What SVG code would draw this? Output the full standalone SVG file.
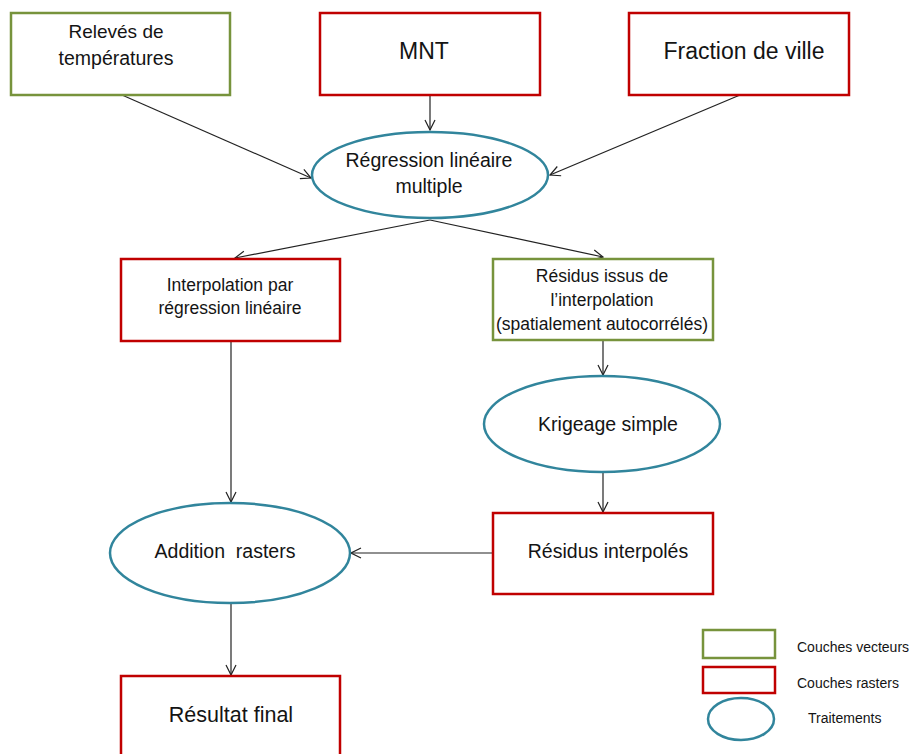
<svg xmlns="http://www.w3.org/2000/svg" width="912" height="754" viewBox="0 0 912 754">
<defs>
<style>
.g{fill:#fff;stroke:#77933C;stroke-width:2.5}
.r{fill:#fff;stroke:#C00000;stroke-width:2.5}
.e{fill:#fff;stroke:#31859C;stroke-width:2.5}
text{font-family:"Liberation Sans",Arial,sans-serif;fill:#141414;text-anchor:middle}
.c line{stroke:#222;stroke-width:1.2;marker-end:url(#a)}
</style>
<marker id="a" viewBox="0 0 12 12" refX="11" refY="6" markerWidth="12" markerHeight="12" markerUnits="userSpaceOnUse" orient="auto">
<polyline points="1,1 11,6 1,11" fill="none" stroke="#222" stroke-width="1.2"/>
</marker>
</defs>
<rect width="912" height="754" fill="#fff"/>
<g class="c">
<line x1="122" y1="95" x2="311" y2="178"/>
<line x1="430" y1="95" x2="430" y2="130"/>
<line x1="740" y1="95" x2="550" y2="175"/>
<line x1="430" y1="220" x2="235" y2="258"/>
<line x1="430" y1="220" x2="603" y2="257"/>
<line x1="231" y1="341" x2="231" y2="502"/>
<line x1="603" y1="341" x2="603" y2="375"/>
<line x1="603" y1="472" x2="603" y2="512"/>
<line x1="493" y1="553" x2="351" y2="553"/>
<line x1="231" y1="604" x2="231" y2="675"/>
</g>
<g id="releves"><rect class="g" x="11" y="13" width="219" height="82"/><text x="116" y="38" font-size="19">Relevés de</text><text x="116" y="65" font-size="19.5">températures</text></g>
<g id="mnt"><rect class="r" x="320" y="13" width="220" height="82"/><text x="424" y="59" font-size="23">MNT</text></g>
<g id="fraction"><rect class="r" x="629" y="13" width="220" height="82"/><text x="744" y="59" font-size="23">Fraction de ville</text></g>
<g id="regression"><ellipse class="e" cx="430" cy="175" rx="118" ry="43"/><text x="429" y="167" font-size="19.5">Régression linéaire</text><text x="429" y="193" font-size="19.5">multiple</text></g>
<g id="interpolation"><rect class="r" x="121" y="259" width="219" height="82"/><text x="230" y="291" font-size="17.5">Interpolation par</text><text x="230" y="314" font-size="17.5">régression linéaire</text></g>
<g id="residus"><rect class="g" x="493" y="259" width="220" height="81"/><text x="602" y="282" font-size="17.5">Résidus issus de</text><text x="602" y="306" font-size="17.5">l’interpolation</text><text x="602" y="330" font-size="17.5">(spatialement autocorrélés)</text></g>
<g id="krigeage"><ellipse class="e" cx="602" cy="424" rx="118" ry="48"/><text x="608" y="431" font-size="19.5">Krigeage simple</text></g>
<g id="residus-interpoles"><rect class="r" x="493" y="513" width="220" height="81"/><text x="608" y="558" font-size="19.5">Résidus interpolés</text></g>
<g id="addition"><ellipse class="e" cx="230" cy="553" rx="120" ry="50"/><text x="225" y="558" font-size="19.5" xml:space="preserve">Addition  rasters</text></g>
<g id="resultat"><rect class="r" x="121" y="676" width="219" height="90"/><text x="231" y="722" font-size="21.5">Résultat final</text></g>
<g id="legend">
<rect class="g" x="703" y="630" width="72" height="28"/>
<rect class="r" x="703" y="667" width="72" height="26"/>
<ellipse class="e" cx="741" cy="719" rx="33" ry="21"/>
<text x="797" y="652" font-size="14" text-anchor="start" style="text-anchor:start">Couches vecteurs</text>
<text x="797" y="688" font-size="14" style="text-anchor:start">Couches rasters</text>
<text x="808" y="723" font-size="14" style="text-anchor:start">Traitements</text>
</g>
</svg>
